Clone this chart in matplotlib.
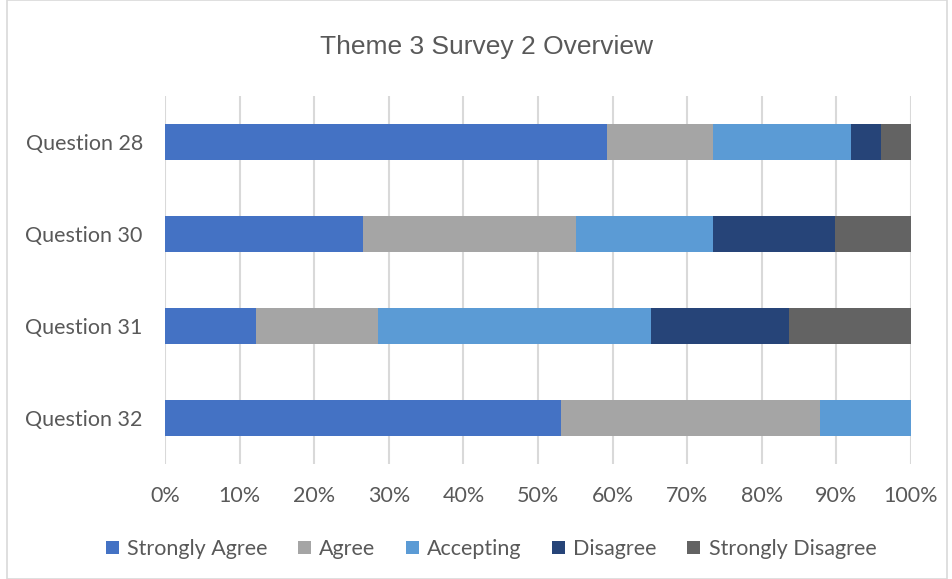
import numpy as np
import matplotlib.pyplot as plt
from matplotlib.patches import Rectangle

questions = ["Question 28", "Question 30", "Question 31", "Question 32"]
categories = ["Strongly Agree", "Agree", "Accepting", "Disagree", "Strongly Disagree"]
colors = ["#4472C4", "#A5A5A5", "#5B9BD5", "#264478", "#636363"]

# share of responses (%) per question
strongly_agree = [59.2, 26.5, 12.2, 53.1]
agree = [14.3, 28.6, 16.3, 34.7]
accepting = [18.4, 18.4, 36.7, 12.2]
disagree = [4.1, 16.3, 18.4, 0.0]
strongly_disagree = [4.0, 10.2, 16.4, 0.0]
series = [strongly_agree, agree, accepting, disagree, strongly_disagree]

fig = plt.figure(figsize=(9.52, 5.79), dpi=100)
ax = fig.add_axes([165 / 952, 1 - 464 / 579, 746 / 952, 368 / 579])

y = np.arange(len(questions))
left = np.zeros(len(questions))
for name, vals, c in zip(categories, series, colors):
    vals = np.array(vals)
    ax.barh(y, vals, left=left, height=0.39, color=c, label=name, zorder=3)
    left += vals

fs = 15.5
ax.set_xlim(0, 100)
ax.set_ylim(3.5, -0.5)
ax.set_yticks(y)
ax.set_yticklabels(questions, fontsize=fs, color="#595959", family="Lato")
ax.set_xticks(np.arange(0, 101, 10))
ax.set_xticklabels([f"{v}%" for v in range(0, 101, 10)], fontsize=fs,
                   color="#595959", family="Lato")
ax.tick_params(length=0)
ax.tick_params(axis="x", pad=16)
ax.tick_params(axis="y", pad=16)
ax.grid(axis="x", color="#D9D9D9", linewidth=1.5, zorder=0)
for s in ax.spines.values():
    s.set_visible(False)

fig.text(487 / 952, 1 - 47 / 579, "Theme 3 Survey 2 Overview", ha="center", va="center",
         fontsize=19, color="#595959", family="Liberation Sans")

fig.legend(loc="center", bbox_to_anchor=(491 / 952, 1 - 549 / 579), ncol=5, frameon=False,
           prop={"family": "Lato", "size": fs}, labelcolor="#595959",
           handlelength=0.6, handleheight=0.6, handletextpad=0.4, columnspacing=1.4)

fig.patches.append(Rectangle((7 / 952, 0), 940 / 952, 1, transform=fig.transFigure,
                             fill=False, edgecolor="#D9D9D9", linewidth=1.2))

fig.savefig("out.png", dpi=100)
